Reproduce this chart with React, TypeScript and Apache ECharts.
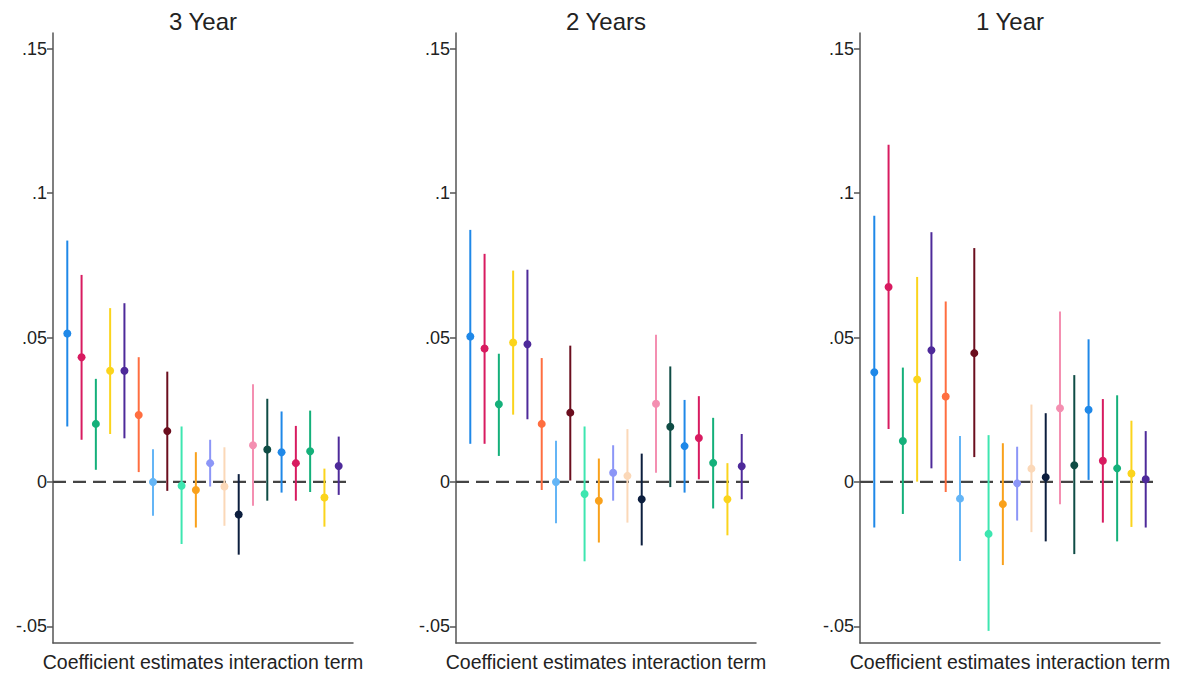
import React, { useEffect, useRef } from "react";
import * as echarts from "echarts";

const panelTitles = ["3 Year", "2 Years", "1 Year"];
const xAxisName = "Coefficient estimates interaction term";
const yTicks = [-0.05, 0, 0.05, 0.1, 0.15];

// position of each coefficient on the x axis (1..20)
const positions = [1, 2, 3, 4, 5, 6, 7, 8, 9, 10, 11, 12, 13, 14, 15, 16, 17, 18, 19, 20];

const palette = [
  "#1f88e8", "#d81b60", "#14b07a", "#fbd41c", "#4e2a9a",
  "#ff6e40", "#64b5f6", "#6b0e1e", "#3de6b0", "#f9a11b",
  "#8c96f7", "#fbd8b8", "#0c1e3e", "#f48fb1", "#0f4c45",
  "#1f88e8", "#d81b60", "#14b07a", "#fbd41c", "#4e2a9a",
];

// 3 Year
const est3 = [0.0514, 0.0432, 0.0201, 0.0385, 0.0385, 0.0232, 0.0, 0.0176, -0.0013, -0.0028, 0.0065, -0.0016, -0.0113, 0.0127, 0.0112, 0.0103, 0.0065, 0.0106, -0.0054, 0.0055];
const lo3 = [0.0192, 0.0146, 0.0042, 0.0166, 0.0151, 0.0034, -0.0117, -0.0031, -0.0215, -0.0158, -0.0016, -0.0152, -0.0252, -0.0083, -0.0065, -0.0037, -0.0065, -0.0035, -0.0155, -0.0045];
const hi3 = [0.0836, 0.0717, 0.0357, 0.0602, 0.0619, 0.0432, 0.0113, 0.0382, 0.0192, 0.0103, 0.0146, 0.012, 0.0027, 0.0338, 0.0288, 0.0244, 0.0194, 0.0247, 0.0046, 0.0157];

// 2 Years
const est2 = [0.0504, 0.0462, 0.0269, 0.0483, 0.0477, 0.0201, 0.0, 0.024, -0.0042, -0.0065, 0.0032, 0.0021, -0.006, 0.0271, 0.0191, 0.0124, 0.0152, 0.0066, -0.006, 0.0054];
const lo2 = [0.0132, 0.0132, 0.009, 0.0233, 0.0217, -0.0028, -0.0143, 0.0005, -0.0275, -0.021, -0.0065, -0.0141, -0.022, 0.0032, -0.0018, -0.0037, 0.0009, -0.0092, -0.0185, -0.006];
const hi2 = [0.0873, 0.079, 0.0444, 0.0732, 0.0735, 0.0429, 0.0143, 0.0472, 0.0192, 0.0081, 0.0127, 0.0183, 0.0098, 0.051, 0.04, 0.0284, 0.0297, 0.0222, 0.0065, 0.0166];

// 1 Year
const est1 = [0.038, 0.0675, 0.0142, 0.0355, 0.0456, 0.0296, -0.0058, 0.0446, -0.018, -0.0077, -0.0005, 0.0046, 0.0016, 0.0255, 0.0058, 0.025, 0.0073, 0.0047, 0.0029, 0.0009];
const lo1 = [-0.0158, 0.0183, -0.0111, 0.0001, 0.0047, -0.0035, -0.0274, 0.0086, -0.0516, -0.0288, -0.0134, -0.0174, -0.0206, -0.0077, -0.025, 0.0007, -0.0141, -0.0206, -0.0156, -0.0158];
const hi1 = [0.0922, 0.1168, 0.0396, 0.071, 0.0865, 0.0625, 0.0159, 0.081, 0.0162, 0.0134, 0.0122, 0.0268, 0.0238, 0.059, 0.037, 0.0494, 0.0287, 0.03, 0.0212, 0.0176];

const panels = [
  { est: est3, lo: lo3, hi: hi3 },
  { est: est2, lo: lo2, hi: hi2 },
  { est: est1, lo: lo1, hi: hi1 },
];

const gridLefts = [53, 456, 860];
const gridWidth = 300;

export default function App() {
  const ref = useRef<HTMLDivElement>(null);

  useEffect(() => {
    if (!ref.current) return;
    const chart = echarts.init(ref.current, null, { renderer: "svg" });

    const grids = gridLefts.map((l) => ({
      left: l,
      width: gridWidth,
      top: 33,
      bottom: 32,
      containLabel: false,
      outerBoundsMode: "none",
    }));

    const xAxes = gridLefts.map((_, i) => ({
      type: "value",
      gridIndex: i,
      min: 0,
      max: 21,
      axisLine: { show: true, onZero: false, lineStyle: { color: "#555", width: 1.5 } },
      axisTick: { show: false },
      axisLabel: { show: false },
      splitLine: { show: false },
      name: xAxisName,
      nameLocation: "middle",
      nameGap: 9,
      nameTextStyle: { fontFamily: "Liberation Sans, Arial", fontSize: 19.5, color: "#222" },
    }));

    const yAxes = gridLefts.map((_, i) => ({
      type: "value",
      gridIndex: i,
      min: -0.0558,
      max: 0.1555,
      axisLine: { show: true, onZero: false, lineStyle: { color: "#555", width: 1.5 } },
      axisTick: { show: true, customValues: yTicks, length: 6, lineStyle: { color: "#555", width: 1.5 } },
      axisLabel: {
        show: true,
        customValues: yTicks,
        margin: 6,
        fontFamily: "Liberation Sans, Arial",
        fontSize: 18,
        color: "#222",
        formatter: (v: number) => (v === 0 ? "0" : String(v).replace("0.", ".")),
      },
      splitLine: { show: false },
    }));

    const series: any[] = [];
    panels.forEach((p, i) => {
      series.push({
        type: "line",
        xAxisIndex: i,
        yAxisIndex: i,
        data: [[0, 0], [21, 0]],
        symbol: "none",
        silent: true,
        lineStyle: { color: "#444", width: 2.2, type: [13, 7] },
        z: 1,
      });
      series.push({
        type: "custom",
        xAxisIndex: i,
        yAxisIndex: i,
        z: 2,
        encode: { x: 0, y: [1, 2, 3] },
        data: positions.map((x, k) => [x, p.est[k], p.lo[k], p.hi[k], k]),
        renderItem: (params: any, api: any) => {
          const x = api.value(0);
          const e = api.value(1);
          const lo = api.value(2);
          const hi = api.value(3);
          const color = palette[api.value(4)];
          const pt = api.coord([x, hi]);
          const pb = api.coord([x, lo]);
          const pe = api.coord([x, e]);
          return {
            type: "group",
            children: [
              {
                type: "line",
                shape: { x1: pt[0], y1: pt[1], x2: pb[0], y2: pb[1] },
                style: { stroke: color, lineWidth: 2 },
              },
              {
                type: "circle",
                shape: { cx: pe[0], cy: pe[1], r: 4 },
                style: { fill: color },
              },
            ],
          };
        },
      });
    });

    const titleCenters = gridLefts.map((l) => l + gridWidth / 2);

    chart.setOption({
      animation: false,
      backgroundColor: "#fff",
      grid: grids,
      xAxis: xAxes,
      yAxis: yAxes,
      series,
      graphic: panelTitles.map((t, i) => ({
        type: "text",
        x: titleCenters[i],
        y: 21,
        style: {
          text: t,
          fontFamily: "Liberation Sans, Arial",
          fontSize: 24,
          fill: "#222",
          textAlign: "center",
          textVerticalAlign: "middle",
        },
      })),
    });

    return () => chart.dispose();
  }, []);

  return (
    <div
      ref={ref}
      style={{ position: "fixed", left: 0, top: 0, width: 1177, height: 675 }}
    />
  );
}
